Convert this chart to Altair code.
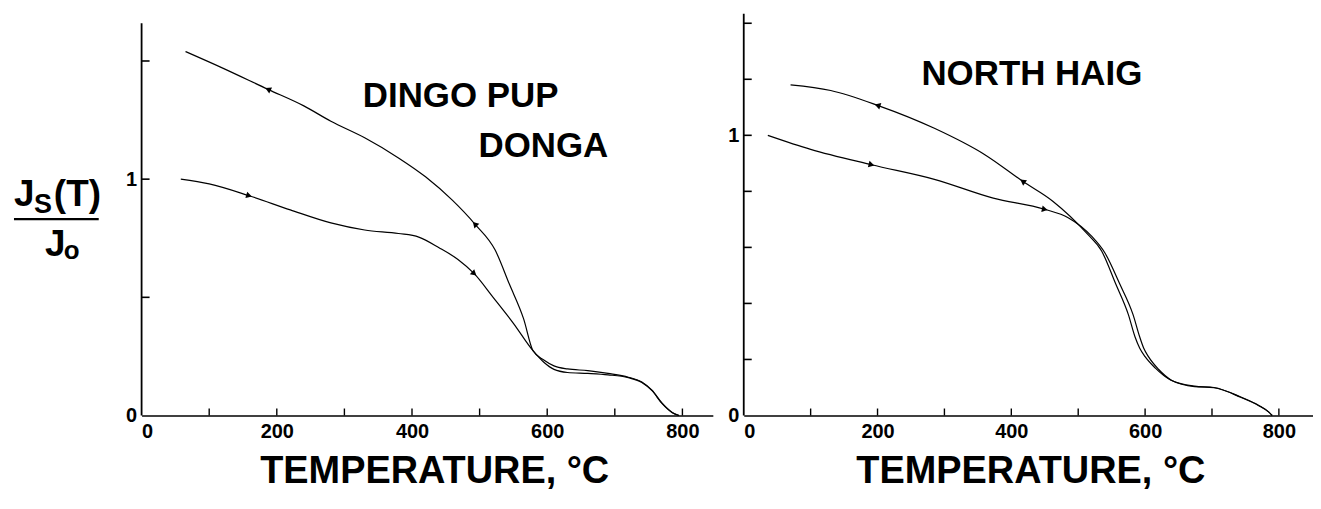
import altair as alt
import pandas as pd
import numpy as np

# ---------------- data ----------------
# Left panel: DINGO PUP DONGA
L_heat_T = [58, 100, 159, 220, 280, 330, 380, 410, 440, 468, 492, 520, 550, 579, 595, 610, 630, 660, 690, 720, 740, 755, 770, 785, 795]
L_heat_v = [1.00, 0.98, 0.93, 0.87, 0.815, 0.785, 0.77, 0.755, 0.71, 0.66, 0.60, 0.50, 0.39, 0.274, 0.225, 0.195, 0.182, 0.178, 0.172, 0.160, 0.140, 0.105, 0.050, 0.012, 0.0]
L_cool_T = [65, 120, 187, 240, 280, 330, 380, 420, 460, 493, 523, 544, 565, 579, 595, 610, 630, 660, 690, 720, 740, 755, 770, 785, 795]
L_cool_v = [1.54, 1.47, 1.38, 1.31, 1.245, 1.175, 1.09, 1.01, 0.91, 0.81, 0.70, 0.556, 0.41, 0.274, 0.235, 0.21, 0.197, 0.19, 0.178, 0.162, 0.142, 0.107, 0.052, 0.013, 0.0]
L_arrow_T = [159, 492, 187, 493]
L_arrow_v = [0.93, 0.60, 1.38, 0.81]
L_arrow_dir = ["heat", "heat", "cool", "cool"]

# Right panel: NORTH HAIG
R_heat_T = [36, 100, 191, 285, 373, 450, 485, 520, 540, 562, 582, 592, 598, 605, 620, 640, 674, 703, 743, 770, 785, 790]
R_heat_v = [1.00, 0.95, 0.895, 0.843, 0.776, 0.736, 0.706, 0.64, 0.58, 0.47, 0.36, 0.28, 0.24, 0.21, 0.165, 0.125, 0.103, 0.099, 0.065, 0.035, 0.012, 0.0]
R_cool_T = [70, 130, 200, 285, 361, 417, 462, 514, 535, 556, 575, 585, 592, 600, 615, 638, 674, 703, 743, 770, 785, 790]
R_cool_v = [1.18, 1.16, 1.107, 1.025, 0.93, 0.836, 0.765, 0.647, 0.587, 0.47, 0.36, 0.28, 0.24, 0.21, 0.17, 0.127, 0.105, 0.100, 0.066, 0.036, 0.012, 0.0]
R_arrow_T = [191, 450, 200, 417]
R_arrow_v = [0.895, 0.736, 1.107, 0.836]
R_arrow_dir = ["heat", "heat", "cool", "cool"]

x_labels = [0, 200, 400, 600, 800]
x_ticks = [100, 200, 300, 400, 500, 600, 700, 800]
L_y_labels = [0, 1]
L_y_ticks = [0.5, 1.0, 1.5]
R_y_labels = [0, 1]
R_y_ticks = [0.2, 0.4, 0.6, 0.8, 1.0, 1.2, 1.4]

L_title = ["DINGO   PUP", "DONGA"]
R_title = ["NORTH   HAIG"]
x_title = "TEMPERATURE, °C"

FONT = "Liberation Sans"
W_L, W_R, H = 573, 571, 403
L_xmax, L_ymax, L_ytop = 845, 1.70, 1.66
R_xmax, R_ymax, R_ytop = 851, 1.434, 1.434


def arrow_angles(T, v, sT, sv, dirs, curves, wx, hy):
    out = []
    for t, val, d in zip(T, v, dirs):
        cT, cv = curves[d]
        i = int(np.searchsorted(cT, t))
        i = min(max(i, 1), len(cT) - 1)
        dx = (cT[i] - cT[i - 1]) * wx / sT
        dy = -(cv[i] - cv[i - 1]) * hy / sv
        ang = np.degrees(np.arctan2(dy, dx))
        if d == "cool":
            ang += 180
        out.append(float(ang % 360))
    return out


def panel(heat_T, heat_v, cool_T, cool_v, aT, av, adir, y_labels, y_ticks,
          xmax, ymax, ytop, width, titles, title_pos, xt_center, ylabel=False):
    xs = alt.Scale(domain=[0, xmax], nice=False, zero=True)
    ys = alt.Scale(domain=[0, ymax], nice=False, zero=True)
    axis_common = dict(grid=False, ticks=False, domainColor="black",
                       domainWidth=1.6, labelFont=FONT, labelFontSize=20,
                       labelFontWeight="bold", labelColor="black", title=None)
    xax = alt.Axis(values=x_labels, labelPadding=6, domain=True, **axis_common)
    yax = alt.Axis(values=y_labels, labelPadding=5, domain=False, **axis_common)

    curves = pd.concat([
        pd.DataFrame({"T": heat_T, "v": heat_v, "run": "heat"}),
        pd.DataFrame({"T": cool_T, "v": cool_v, "run": "cool"}),
    ])
    lines = alt.Chart(curves).mark_line(color="black", strokeWidth=1.2, interpolate="monotone").encode(
        x=alt.X("T:Q", scale=xs, axis=xax),
        y=alt.Y("v:Q", scale=ys, axis=yax),
        detail="run:N",
    )

    # y-axis line, drawn up to the top of the reference axis
    yline = alt.Chart(pd.DataFrame({"a": [0]})).mark_rule(color="black", strokeWidth=1.8).encode(
        x=alt.value(0),
        y=alt.Y(datum=0, scale=ys, axis=yax),
        y2=alt.Y2(datum=ytop),
    )
    xt = alt.Chart(pd.DataFrame({"T": x_ticks})).mark_rule(color="black", strokeWidth=1.4).encode(
        x=alt.X("T:Q", scale=xs, axis=xax),
        y=alt.value(H), y2=alt.value(H - 7),
    )
    yt = alt.Chart(pd.DataFrame({"v": y_ticks})).mark_rule(color="black", strokeWidth=1.6).encode(
        y=alt.Y("v:Q", scale=ys, axis=yax),
        x=alt.value(0), x2=alt.value(8),
    )

    curve_map = {"heat": (heat_T, heat_v), "cool": (cool_T, cool_v)}
    ang = arrow_angles(aT, av, xmax, ymax, adir, curve_map, width, H)
    arr = alt.Chart(pd.DataFrame({"T": aT, "v": av, "ang": ang})).mark_point(
        shape="triangle-right", filled=True, color="black", size=45, opacity=1).encode(
        x=alt.X("T:Q", scale=xs, axis=xax),
        y=alt.Y("v:Q", scale=ys, axis=yax),
        angle=alt.Angle("ang:Q", scale=None),
    )

    layers = [lines, yline, xt, yt, arr]
    for txt, (px, py) in zip(titles, title_pos):
        layers.append(alt.Chart(pd.DataFrame({"t": [txt]})).mark_text(
            font=FONT, fontSize=35, fontWeight="bold", color="black", align="center", baseline="middle"
        ).encode(text="t:N", x=alt.value(px), y=alt.value(py)))

    # x-axis title
    layers.append(alt.Chart(pd.DataFrame({"t": [x_title]})).mark_text(
        font=FONT, fontSize=38, fontWeight="bold", color="black", align="center", baseline="middle"
    ).encode(text="t:N", x=alt.value(xt_center), y=alt.value(460)))

    if ylabel:
        def t(s, x, y, size):
            return alt.Chart(pd.DataFrame({"t": [s]})).mark_text(
                font=FONT, fontSize=size, fontWeight="bold", color="black", align="left", baseline="alphabetic"
            ).encode(text="t:N", x=alt.value(x), y=alt.value(y))
        layers += [
            t("J", -128, 193, 37), t("S", -108, 200, 27), t("(T)", -88, 193, 37),
            t("J", -97, 243, 37), t("o", -78, 246, 26),
            alt.Chart(pd.DataFrame({"a": [0]})).mark_rule(color="black", strokeWidth=2.2).encode(
                x=alt.value(-128), x2=alt.value(-43), y=alt.value(206)),
        ]

    return alt.layer(*layers).properties(width=width, height=H)


left = panel(L_heat_T, L_heat_v, L_cool_T, L_cool_v, L_arrow_T, L_arrow_v, L_arrow_dir,
             L_y_labels, L_y_ticks, L_xmax, L_ymax, L_ytop, W_L, L_title, [(320, 83), (403, 133)], 294, ylabel=True)
right = panel(R_heat_T, R_heat_v, R_cool_T, R_cool_v, R_arrow_T, R_arrow_v, R_arrow_dir,
              R_y_labels, R_y_ticks, R_xmax, R_ymax, R_ytop, W_R, R_title, [(289, 60)], 288)

chart = alt.hconcat(left, right, spacing=14).properties(
    padding={"left": 4, "top": 4, "right": 0, "bottom": 0}
).configure(background="white").configure_view(stroke=None)

chart.save("out.html", embed_options={"renderer": "svg", "actions": False})
